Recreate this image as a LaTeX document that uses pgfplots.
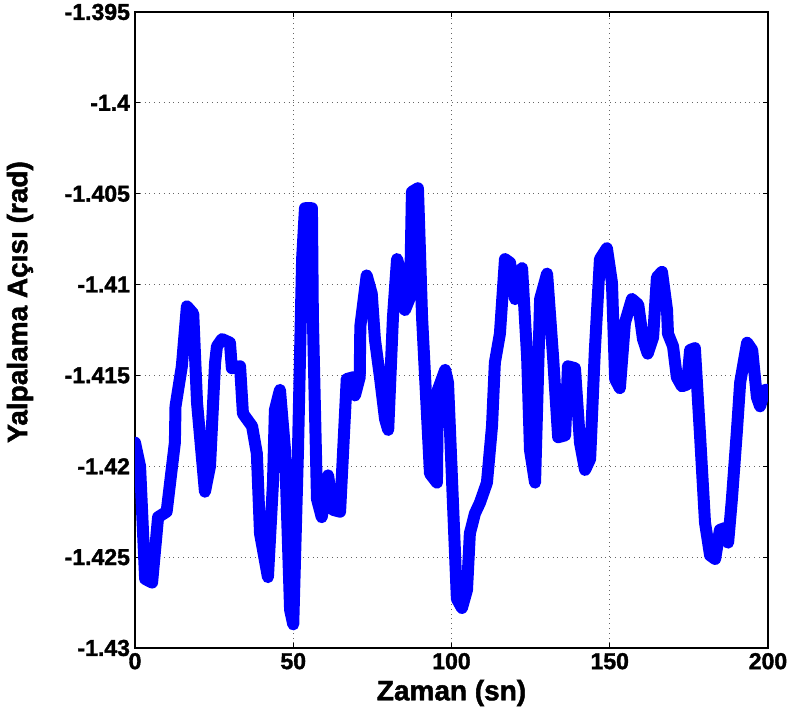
\documentclass[border=0pt]{standalone}
\usepackage{fontspec}
\setmainfont{Liberation Sans}
\newfontfamily\heavyfont{Liberation Sans}[BoldFeatures={FakeBold=1.6}]
\usepackage{pgfplots}
\pgfplotsset{compat=1.18}
\begin{document}
\begin{tikzpicture}
\begin{axis}[
  name=ax,
  scale only axis,
  width=316.5pt, height=318pt,
  xmin=0, xmax=200, ymin=-1.43, ymax=-1.395,
  xtick={0,50,100,150,200},
  ytick={-1.43,-1.425,-1.42,-1.415,-1.41,-1.405,-1.4,-1.395},
  yticklabels={-1.43,-1.425,-1.42,-1.415,-1.41,-1.405,-1.4,-1.395},
  xticklabels={0,50,100,150,200},
  tick align=inside,
  major tick length=2.5pt,
  tick style={black, line width=0.6pt},
  axis line style={black, line width=1pt},
  grid=major,
  major grid style={dotted, gray!80!black, line width=0.5pt},
  tick label style={font=\heavyfont\fontsize{11.5}{13}\selectfont\bfseries},
  xticklabel style={yshift=1pt},
  yticklabel style={xshift=1pt},
  xlabel={Zaman (sn)},
  ylabel={Yalpalama Açısı (rad)},
  label style={font=\heavyfont\fontsize{14}{16}\selectfont\bfseries},
  xlabel style={at={(axis description cs:0.5,-0.0708)}, anchor=center},
  ylabel style={at={(axis description cs:-0.1817,0.544)}, anchor=center, rotate=0},
]
\addplot[color={rgb,255:red,0;green,0;blue,255}, line width=6pt, line join=round, line cap=round] coordinates {
(0,-1.4187) (1.6,-1.4200) (3.2,-1.4262) (5.4,-1.4264) (7.3,-1.4228) (10,-1.4225)
(12.6,-1.4187) (12.8,-1.4167) (14.8,-1.4145) (16.4,-1.4112) (18.4,-1.4116) (19.6,-1.4165)
(22.1,-1.4214) (23.7,-1.4200) (25.3,-1.4143) (25.9,-1.4134) (27.5,-1.4130) (30,-1.4132)
(30.6,-1.4146) (33.2,-1.4145) (34.1,-1.4171) (37,-1.4178) (38.5,-1.4193) (39.5,-1.4237)
(42,-1.4261) (43.6,-1.4209) (44.2,-1.4169) (45.8,-1.4158) (47.4,-1.4191) (49,-1.4279)
(50,-1.4287) (51.5,-1.4191) (52.8,-1.4086) (53.7,-1.4058) (55.9,-1.4058) (56.2,-1.4118)
(57.5,-1.4218) (59,-1.4228) (61,-1.4205) (62.6,-1.4224) (64.8,-1.4225) (66.9,-1.4152)
(69,-1.4151) (69.5,-1.4161) (71,-1.4151) (71.2,-1.4123) (73.2,-1.4095) (74.8,-1.4105)
(75.8,-1.4130) (77.4,-1.4151) (79,-1.4174) (80,-1.4180) (81.5,-1.4118) (82.8,-1.4086)
(84.4,-1.4096) (85.3,-1.4114) (86.9,-1.4107) (87.5,-1.4049) (89.4,-1.4047) (90.7,-1.4118)
(92.3,-1.4173) (93.2,-1.4204) (95.4,-1.4209) (95.7,-1.4158) (98,-1.4147) (98.9,-1.4154)
(100.2,-1.4209) (101.7,-1.4273) (103.3,-1.4278) (104.9,-1.4268) (105.8,-1.4237) (107.4,-1.4226)
(109,-1.4220) (111.2,-1.4209) (112.8,-1.4178) (113.7,-1.4143) (115.3,-1.4127) (116.9,-1.4086)
(118.5,-1.4088) (120.1,-1.4108) (121,-1.4094) (122.3,-1.4091) (123.9,-1.4140) (124.8,-1.4191)
(126.4,-1.4209) (128,-1.4108) (130.2,-1.4094) (132.1,-1.4140) (133.7,-1.4184) (135.9,-1.4183)
(136.8,-1.4145) (139,-1.4146) (140.6,-1.4187) (142.2,-1.4202) (143.8,-1.4196) (145.3,-1.4136)
(146.9,-1.4086) (149.1,-1.4080) (150.7,-1.4099) (151.7,-1.4152) (153.2,-1.4157) (154.8,-1.4121)
(157,-1.4108) (159,-1.4111) (160.5,-1.4130) (162,-1.4138) (163.7,-1.4129) (164.9,-1.4096)
(166.5,-1.4093) (168.1,-1.4114) (168.4,-1.4127) (170,-1.4134) (171.2,-1.4151) (172.8,-1.4156)
(174.4,-1.4155) (175.4,-1.4136) (176.9,-1.4135) (178.5,-1.4182) (180.1,-1.4231) (181.7,-1.4249)
(183.3,-1.4251) (184.8,-1.4235) (186.4,-1.4234) (187.4,-1.4242) (188.6,-1.4218) (190.2,-1.4180)
(191.2,-1.4154) (193.4,-1.4132) (195,-1.4136) (196.5,-1.4162) (197.5,-1.4167) (199,-1.4158)
(200,-1.4158)
};
\end{axis}
\pgfresetboundingbox
\path ([xshift=-67.5pt,yshift=-33.5pt]ax.south west) rectangle ([xshift=12.5pt,yshift=6pt]ax.north east);
\end{tikzpicture}
\end{document}
